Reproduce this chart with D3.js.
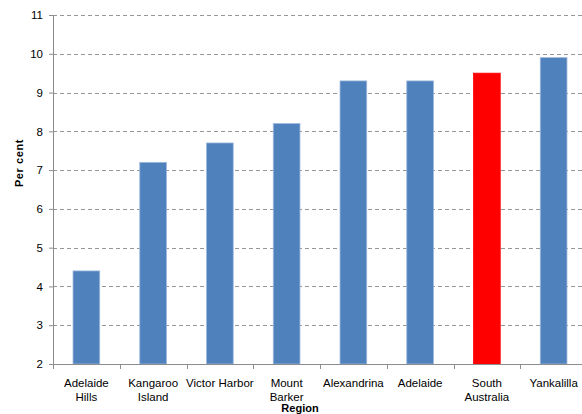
<!DOCTYPE html>
<html>
<head>
<meta charset="utf-8">
<script src="https://cdn.jsdelivr.net/npm/d3@7"></script>
<style>
  html, body { margin: 0; padding: 0; background: #fff; overflow: hidden; }
  svg { display: block; font-family: "Liberation Sans", Arial, sans-serif; }
</style>
</head>
<body>
<svg id="chart" width="582" height="414"></svg>
<script>
// Regions and their percentages
const regions = [
  ["Adelaide", "Hills"],
  ["Kangaroo", "Island"],
  ["Victor Harbor"],
  ["Mount", "Barker"],
  ["Alexandrina"],
  ["Adelaide"],
  ["South", "Australia"],
  ["Yankalilla"]
];
const values = [4.4, 7.2, 7.7, 8.2, 9.3, 9.3, 9.5, 9.9];
const highlight = [false, false, false, false, false, false, true, false];
const yTicks = [2, 3, 4, 5, 6, 7, 8, 9, 10, 11];

const svg = d3.select("#chart");
const plotLeft = 53, plotRight = 587, plotTop = 15, plotBottom = 364;
const fontSize = 11.5;

const keys = regions.map(r => r.join(" "));
const x = d3.scaleBand().domain(keys).range([plotLeft, plotRight]).paddingInner(0.6).paddingOuter(0.3);
const y = d3.scaleLinear().domain([2, 11]).range([plotBottom, plotTop]);

// Dashed horizontal gridlines
svg.append("g")
  .selectAll("line")
  .data(yTicks.filter(t => t > 2))
  .join("line")
  .attr("x1", plotLeft).attr("x2", plotRight)
  .attr("y1", d => Math.round(y(d)) + 0.5).attr("y2", d => Math.round(y(d)) + 0.5)
  .attr("stroke", "#969696")
  .attr("stroke-width", 1)
  .attr("stroke-dasharray", "4,3");

// Bars
svg.append("g")
  .selectAll("rect")
  .data(values)
  .join("rect")
  .attr("x", (d, i) => x(keys[i]))
  .attr("y", d => y(d))
  .attr("width", x.bandwidth())
  .attr("height", d => plotBottom - y(d))
  .attr("fill", (d, i) => highlight[i] ? "#ff0000" : "#4f81bd")
  .attr("stroke", (d, i) => highlight[i] ? "#ff0000" : "#9db8dc")
  .attr("stroke-width", 0.8);

// Y axis
const yAxis = svg.append("g")
  .attr("transform", `translate(${plotLeft},0)`)
  .call(d3.axisLeft(y).tickValues(yTicks).tickSize(4).tickPadding(6).tickFormat(d3.format("d")));
yAxis.select(".domain").attr("stroke", "#8c8c8c");
yAxis.selectAll(".tick line").attr("stroke", "#8c8c8c");
yAxis.selectAll(".tick text")
  .attr("font-size", fontSize)
  .attr("fill", "#000")
  .style("font-family", "'Liberation Sans', Arial, sans-serif");

// X axis with ticks at category boundaries
const boundaries = d3.range(keys.length + 1).map(i => plotLeft + i * (plotRight - plotLeft) / keys.length);
const xg = svg.append("g");
xg.append("line")
  .attr("x1", plotLeft).attr("x2", plotRight)
  .attr("y1", plotBottom + 0.5).attr("y2", plotBottom + 0.5)
  .attr("stroke", "#8c8c8c");
xg.selectAll("line.tk")
  .data(boundaries)
  .join("line")
  .attr("class", "tk")
  .attr("x1", d => Math.round(d) + 0.5).attr("x2", d => Math.round(d) + 0.5)
  .attr("y1", plotBottom).attr("y2", plotBottom + 5)
  .attr("stroke", "#8c8c8c");

// Category labels
const labels = xg.selectAll("text.cat")
  .data(regions)
  .join("text")
  .attr("class", "cat")
  .attr("text-anchor", "middle")
  .attr("font-size", fontSize)
  .attr("fill", "#000");
labels.each(function(lines, i) {
  const cx = x(keys[i]) + x.bandwidth() / 2;
  d3.select(this).selectAll("tspan")
    .data(lines)
    .join("tspan")
    .attr("x", cx)
    .attr("y", (d, j) => 387 + j * 13.5)
    .text(d => d);
});

// Axis titles
svg.append("text")
  .attr("x", 300).attr("y", 412)
  .attr("text-anchor", "middle")
  .attr("font-size", 11)
  .attr("font-weight", "bold")
  .text("Region");

svg.append("text")
  .attr("transform", "translate(23,163) rotate(-90)")
  .attr("text-anchor", "middle")
  .attr("font-size", 11)
  .attr("font-weight", "bold")
  .attr("letter-spacing", 0.6)
  .text("Per cent");
</script>
</body>
</html>
